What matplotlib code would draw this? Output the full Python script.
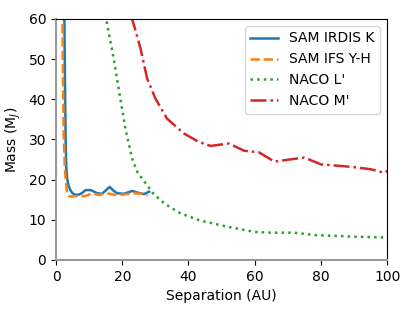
import matplotlib
matplotlib.use('Agg')
import matplotlib.pyplot as plt

# SAM IRDIS K
irdis_sep = [2.5, 2.7, 2.9, 3.1, 3.4, 3.8, 4.3, 5.0, 5.9, 7.0, 7.9, 8.9, 10.4, 11.5, 12.4, 13.9, 15.0, 16.2, 17.3, 18.5, 20.5, 22.0, 23.0, 24.5, 26.6, 28.1]
irdis_mass = [62, 45, 30, 23, 20, 18.5, 17.4, 16.6, 16.2, 16.3, 16.7, 17.4, 17.4, 17.0, 16.6, 16.5, 17.3, 18.2, 17.3, 16.6, 16.5, 16.9, 17.2, 16.8, 16.4, 17.0]

# SAM IFS Y-H
ifs_sep = [1.9, 2.1, 2.3, 2.6, 3.0, 3.4, 3.8, 5.0, 6.3, 8.8, 10.9, 12.9, 15.4, 17.9, 20.5, 23.5, 26.1, 27.6]
ifs_mass = [62, 45, 32, 24, 19, 16.5, 15.9, 15.8, 15.9, 15.9, 16.6, 16.2, 16.6, 16.2, 16.3, 16.6, 16.5, 16.0]

# NACO L'
lp_sep = [15.0, 15.2, 17.4, 19.4, 21.0, 22.9, 24.5, 26.5, 29.5, 33.0, 37.6, 43.6, 51.7, 59.8, 65.0, 71.9, 78.0, 90.0, 100.0]
lp_mass = [61, 59.7, 50.2, 40.2, 32.5, 25.5, 22.0, 19.7, 16.4, 13.9, 11.6, 9.8, 8.3, 7.0, 6.8, 6.8, 6.2, 5.8, 5.6]

# NACO M'
mp_sep = [22.8, 23.1, 25.5, 27.5, 30.0, 33.5, 38.6, 43.1, 46.7, 52.2, 56.8, 61.3, 65.9, 75.0, 80.0, 89.0, 95.0, 99.2, 100.4]
mp_mass = [61, 59.7, 52.7, 45.2, 40.2, 35.2, 31.5, 29.4, 28.4, 29.0, 27.2, 26.8, 24.5, 25.5, 23.8, 23.2, 22.6, 21.7, 22.4]

fig = plt.figure(figsize=(4.15, 3.11), dpi=100)
ax = fig.add_axes([0.135, 0.164, 0.798, 0.775])

ax.plot(irdis_sep, irdis_mass, '-', color='#1f77b4', lw=1.8, label='SAM IRDIS K')
ax.plot(ifs_sep, ifs_mass, '--', color='#ff7f0e', lw=1.8, label='SAM IFS Y-H')
ax.plot(lp_sep, lp_mass, ':', color='#2ca02c', lw=1.8, label="NACO L'")
ax.plot(mp_sep, mp_mass, '-.', color='#d62728', lw=1.8, label="NACO M'")

ax.set_xlim(0, 100)
ax.set_ylim(0, 60)
ax.set_xlabel('Separation (AU)')
ax.set_ylabel('Mass (M$_J$)')
ax.spines['left'].set_color('#999999')
ax.spines['bottom'].set_color('#999999')
ax.spines['left'].set_linewidth(1.5)
ax.spines['bottom'].set_linewidth(1.5)
ax.legend(loc='upper right')

fig.savefig('out.png', dpi=100)
